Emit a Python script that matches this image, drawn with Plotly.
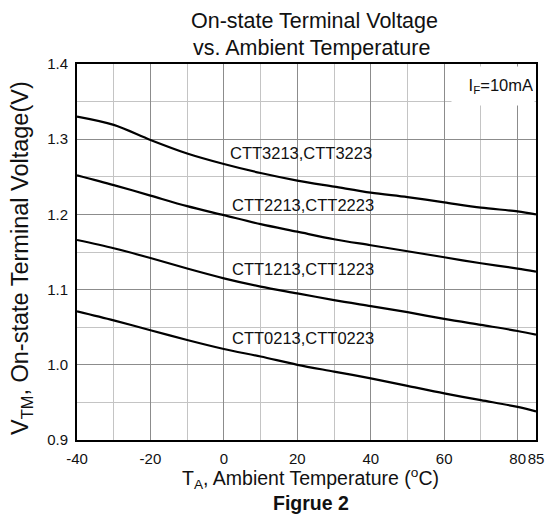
import plotly.graph_objects as go

temps = [-40, -30, -20, -10, 0, 10, 20, 30, 40, 50, 60, 70, 80, 85]
v_ctt3213 = [1.330, 1.319, 1.299, 1.281, 1.267, 1.255, 1.245, 1.237, 1.229, 1.223, 1.216, 1.209, 1.204, 1.200]
v_ctt2213 = [1.252, 1.239, 1.225, 1.211, 1.199, 1.187, 1.177, 1.167, 1.159, 1.151, 1.143, 1.135, 1.128, 1.124]
v_ctt1213 = [1.166, 1.155, 1.142, 1.128, 1.115, 1.104, 1.095, 1.086, 1.078, 1.070, 1.061, 1.053, 1.045, 1.040]
v_ctt0213 = [1.071, 1.059, 1.046, 1.033, 1.021, 1.011, 1.000, 0.991, 0.982, 0.972, 0.962, 0.953, 0.944, 0.938]

series = [
    ("CTT3213,CTT3223", v_ctt3213),
    ("CTT2213,CTT2223", v_ctt2213),
    ("CTT1213,CTT1223", v_ctt1213),
    ("CTT0213,CTT0223", v_ctt0213),
]
label_x = [21, 21.5, 21.5, 21.5]
label_y = [1.282, 1.2125, 1.128, 1.035]

x_ticks = [-40, -20, 0, 20, 40, 60, 80, 85]
x_ticktext = ["-40", "-20", "0", "20", "40", "60", "80", "85"]
y_ticks = [0.9, 1.0, 1.1, 1.2, 1.3, 1.4]
y_ticktext = ["0.9", "1.0", "1.1", "1.2", "1.3", "1.4"]

FONT = "Liberation Sans, Arial, sans-serif"
TXT = "#111"

fig = go.Figure()
for name, vals in series:
    fig.add_trace(go.Scatter(
        x=temps, y=vals, mode="lines", name=name,
        line=dict(color="black", width=2.2, shape="spline", smoothing=0.9),
        showlegend=False, hoverinfo="skip"))

for (name, _), lx, ly in zip(series, label_x, label_y):
    fig.add_annotation(x=lx, y=ly, text=name, showarrow=False,
                       font=dict(family=FONT, size=16.5, color=TXT),
                       xanchor="center", yanchor="middle")

# I_F box
fig.add_annotation(xref="paper", yref="paper", x=1, y=1, xanchor="right", yanchor="top",
                   xshift=-1.5, yshift=-1.5,
                   text="I<sub>F</sub>=10mA", showarrow=False,
                   width=80, height=36, bgcolor="white", align="right",
                   font=dict(family=FONT, size=16.5, color=TXT))

# title lines
fig.add_annotation(xref="paper", yref="paper", x=0.5, y=1, xanchor="center", yanchor="middle",
                   xshift=8, yshift=43, text="On-state Terminal Voltage", showarrow=False,
                   font=dict(family=FONT, size=21.5, color=TXT))
fig.add_annotation(xref="paper", yref="paper", x=0.5, y=1, xanchor="center", yanchor="middle",
                   xshift=5, yshift=16, text="vs. Ambient Temperature", showarrow=False,
                   font=dict(family=FONT, size=21.5, color=TXT))

# axis titles
fig.add_annotation(xref="paper", yref="paper", x=0.5, y=0, xanchor="center", yanchor="middle",
                   xshift=4, yshift=-38,
                   text="T<sub>A</sub>, Ambient Temperature (<sup>o</sup>C)", showarrow=False,
                   font=dict(family=FONT, size=19.5, color=TXT))
fig.add_annotation(xref="paper", yref="paper", x=0, y=0.5, xanchor="center", yanchor="middle",
                   xshift=-56, yshift=-6, textangle=-90,
                   text="V<sub>TM</sub>, On-state Terminal Voltage(V)", showarrow=False,
                   font=dict(family=FONT, size=23.5, color=TXT))

fig.add_annotation(xref="paper", yref="paper", x=0.5, y=0, xanchor="center", yanchor="middle",
                   xshift=4, yshift=-63, text="<b>Figrue 2</b>", showarrow=False,
                   font=dict(family=FONT, size=19.5, color=TXT))

fig.update_layout(
    width=548, height=516,
    margin=dict(l=69, r=17, t=56, b=84),
    paper_bgcolor="white", plot_bgcolor="white",
    font=dict(family=FONT, color=TXT),
)
fig.update_xaxes(
    range=[-40, 85], tickmode="array", tickvals=x_ticks, ticktext=x_ticktext,
    tickangle=0,
    tickfont=dict(size=15), ticks="", ticklen=0, ticklabelstandoff=4,
    showgrid=True, gridcolor="#8c8c8c", gridwidth=1,
    minor=dict(dtick=10, tick0=0, showgrid=True, gridcolor="#c4c4c4", gridwidth=1),
    showline=True, linecolor="black", linewidth=2, mirror=True, zeroline=False,
)
fig.update_yaxes(
    range=[0.9, 1.4], tickmode="array", tickvals=y_ticks, ticktext=y_ticktext,
    tickfont=dict(size=15), ticks="", ticklen=0, ticklabelstandoff=4,
    showgrid=True, gridcolor="#8c8c8c", gridwidth=1,
    minor=dict(dtick=0.05, tick0=0.9, showgrid=True, gridcolor="#c4c4c4", gridwidth=1),
    showline=True, linecolor="black", linewidth=2, mirror=True, zeroline=False,
)

fig.write_html("out.html")
